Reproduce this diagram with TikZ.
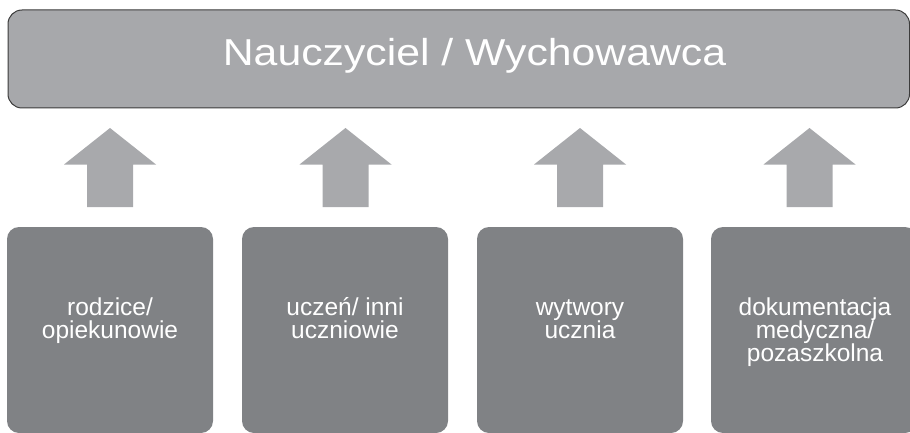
\documentclass[tikz,border=0pt]{standalone}
\usepackage{fontspec}
\setmainfont{Liberation Sans}
\newfontfamily\titlefont[FakeStretch=1.14]{Liberation Sans}
\definecolor{topfill}{HTML}{A7A8AB}
\definecolor{topline}{HTML}{3C3C3C}
\definecolor{arrowfill}{HTML}{A8A9AC}
\definecolor{boxfill}{HTML}{808285}
\begin{document}
\begin{tikzpicture}[x=1pt,y=-1pt,
  topbox/.style={draw=topline,line width=1pt,fill=topfill,rounded corners=14pt},
  srcbox/.style={fill=boxfill,rounded corners=12pt},
  blockarrow/.style={fill=arrowfill},
  titletext/.style={anchor=base,text=white,inner sep=0pt,font=\titlefont\fontsize{37.5}{40}\selectfont},
  srctext/.style={anchor=base,text=white,inner sep=0pt,align=center,font=\fontsize{24.5}{23}\selectfont}]
\useasboundingbox (0,0) rectangle (910,433);
% top box
\path[topbox] (8,10) rectangle (909.5,108);
\node[titletext] (title) at (474.5,65.7) {Nauczyciel / Wychowawca};
% bottom boxes
\foreach \xl in {7,242,477,711}{
  \path[srcbox] (\xl,227) rectangle ++(206,206);
}
% arrows
\foreach \c in {110,345.5,580,809.5}{
  \path[blockarrow] (\c,128) -- (\c+46,164.5) -- (\c+23,164.5) -- (\c+23,207)
    -- (\c-23,207) -- (\c-23,164.5) -- (\c-46,164.5) -- cycle;
}
\node[srctext] (s1) at (110,338.5) {rodzice/\\opiekunowie};
\node[srctext] (s2) at (345,338.5) {uczeń/ inni\\uczniowie};
\node[srctext] (s3) at (580,338.5) {wytwory\\ucznia};
\node[srctext] (s4) at (815,361.5) {dokumentacja\\medyczna/\\pozaszkolna};
\end{tikzpicture}
\end{document}
